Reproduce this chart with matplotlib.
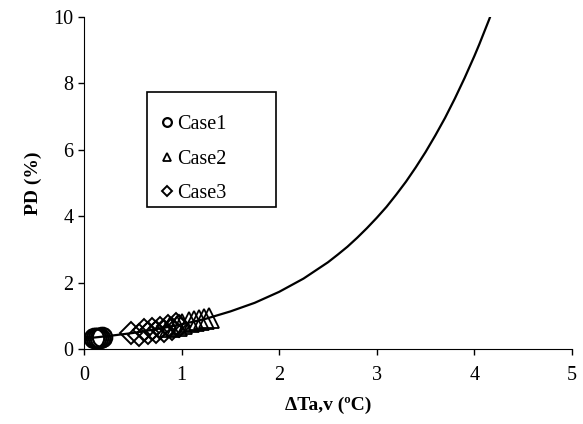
import matplotlib.pyplot as plt
from matplotlib.patches import Rectangle

plt.rcParams['font.family'] = ['Liberation Serif', 'DejaVu Serif']

# curve
curve_x = [0, 0.25, 0.5, 0.75, 1.0, 1.25, 1.5, 1.75, 2.0, 2.25, 2.5, 2.6, 2.7,
           2.8, 2.9, 3.0, 3.1, 3.2, 3.3, 3.4, 3.5, 3.6, 3.7, 3.8, 3.9, 4.0,
           4.05, 4.1, 4.15, 4.2]
curve_y = [0.31, 0.39, 0.48, 0.60, 0.74, 0.91, 1.13, 1.39, 1.72, 2.12, 2.61,
           2.84, 3.08, 3.35, 3.64, 3.95, 4.28, 4.65, 5.04, 5.47, 5.93, 6.43,
           6.96, 7.54, 8.16, 8.82, 9.17, 9.54, 9.91, 10.3]

case1_x = [0.10, 0.12, 0.14, 0.16, 0.18]
case1_y = [0.32, 0.33, 0.33, 0.34, 0.35]

case2_x = [0.88, 0.95, 1.00, 1.08, 1.13, 1.18, 1.23, 1.28]
case2_y = [0.66, 0.70, 0.74, 0.80, 0.84, 0.86, 0.90, 0.93]

case3_x = [0.48, 0.56, 0.62, 0.66, 0.70, 0.74, 0.78, 0.82, 0.86, 0.90, 0.94, 0.97]
case3_y = [0.47, 0.42, 0.56, 0.48, 0.60, 0.50, 0.63, 0.55, 0.68, 0.60, 0.74, 0.68]

fig = plt.figure(figsize=(5.83, 4.24), dpi=100)
ax = fig.add_axes([0.144, 0.177, 0.837, 0.783])

ax.plot(curve_x, curve_y, color='black', lw=1.6)
ax.plot(case1_x, case1_y, 'o', mfc='none', mec='black', ms=14, mew=1.6, label='Case1')
ax.plot(case2_x, case2_y, '^', mfc='none', mec='black', ms=14, mew=1.3, label='Case2')
ax.plot(case3_x, case3_y, 'D', mfc='none', mec='black', ms=11, mew=1.4, label='Case3')

ax.set_xlim(0, 5)
ax.set_ylim(0, 10)
ax.set_xticks(range(0, 6))
ax.set_yticks(range(0, 11, 2))
ax.spines['top'].set_visible(False)
ax.spines['right'].set_visible(False)
ax.tick_params(direction='out', length=4, width=1, labelsize=14.5, colors='black')
ax.tick_params(axis='x', pad=8)
ax.set_xlabel('ΔTa,v (ºC)', fontsize=14, fontweight='bold', labelpad=9)
ax.set_ylabel('PD (%)', fontsize=14, fontweight='bold', labelpad=8)

# legend box drawn separately, it is wider than its entries
ax.add_patch(Rectangle((0.129, 0.428), 0.264, 0.346, transform=ax.transAxes,
                       fill=False, edgecolor='black', lw=1.2, zorder=5))
ax.legend(loc='center left', bbox_to_anchor=(0.158, 0.572), frameon=False,
          fontsize=14.5, markerscale=0.45, handlelength=0.6, handletextpad=0.2,
          labelspacing=0.78, borderpad=0, borderaxespad=0)

plt.savefig('out.png')
